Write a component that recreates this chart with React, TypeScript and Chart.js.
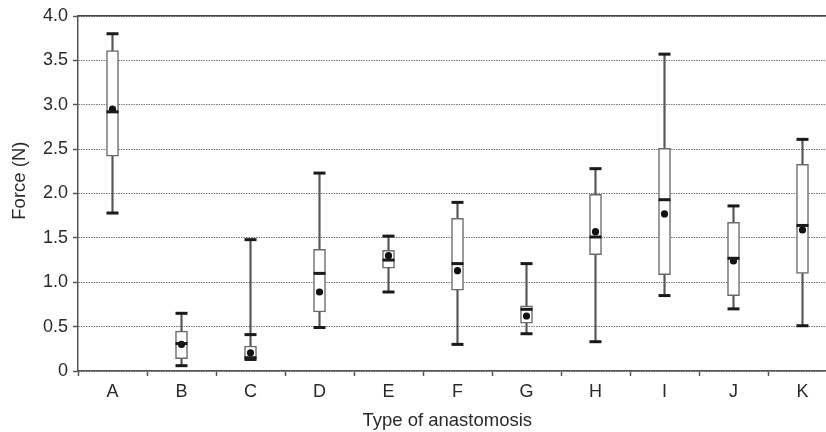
import React, { useEffect, useRef } from "react";
import { Chart, registerables } from "chart.js";

Chart.register(...registerables);

const categories = ["A", "B", "C", "D", "E", "F", "G", "H", "I", "J", "K"];
const minValues = [1.78, 0.06, 0.13, 0.49, 0.89, 0.3, 0.42, 0.33, 0.85, 0.7, 0.51];
const q1Values = [2.42, 0.14, 0.135, 0.665, 1.16, 0.91, 0.54, 1.31, 1.085, 0.85, 1.1];
const medianValues = [2.92, 0.31, 0.15, 1.1, 1.25, 1.21, 0.695, 1.51, 1.93, 1.27, 1.64];
const q3Values = [3.61, 0.45, 0.28, 1.37, 1.36, 1.72, 0.735, 1.99, 2.51, 1.675, 2.33];
const maxValues = [3.8, 0.65, 1.48, 2.23, 1.52, 1.9, 1.21, 2.28, 3.57, 1.86, 2.61];
const meanValues = [2.95, 0.3, 0.205, 0.89, 1.3, 1.13, 0.62, 1.57, 1.77, 1.24, 1.59];
const extraCapValues = [null, null, 0.41, null, null, null, null, null, null, null, null];
const yTicks = [0, 0.5, 1, 1.5, 2, 2.5, 3, 3.5, 4];

const FONT = "'Liberation Sans', Arial, Helvetica, sans-serif";

export default function App() {
  const ref = useRef<HTMLCanvasElement | null>(null);

  useEffect(() => {
    if (!ref.current) return;
    const capStyle = {
      type: "line" as const,
      showLine: false,
      pointStyle: "line" as const,
      pointRadius: 6,
      pointHoverRadius: 6,
      pointBorderWidth: 3,
      pointBorderColor: "#1a1a1a",
      borderColor: "#1a1a1a",
    };
    const chart = new Chart(ref.current, {
      type: "bar",
      data: {
        labels: categories,
        datasets: [
          { ...capStyle, label: "median", data: medianValues } as any,
          {
            type: "line",
            label: "mean",
            data: meanValues,
            showLine: false,
            pointStyle: "circle",
            pointRadius: 3.6,
            pointBorderWidth: 0,
            pointBackgroundColor: "#111",
            borderColor: "#111",
          } as any,
          { ...capStyle, label: "max", data: maxValues } as any,
          { ...capStyle, label: "min", data: minValues } as any,
          { ...capStyle, label: "cap", data: extraCapValues } as any,
          {
            type: "bar",
            label: "box",
            data: q1Values.map((q, i) => [q, q3Values[i]]),
            backgroundColor: "#ffffff",
            borderColor: "#6a6a6a",
            borderWidth: 1.5,
            borderSkipped: false,
            barThickness: 12,
            grouped: false,
          } as any,
          {
            type: "bar",
            label: "whisker",
            data: minValues.map((m, i) => [m, maxValues[i]]),
            backgroundColor: "#555555",
            borderWidth: 0,
            barThickness: 1.5,
            grouped: false,
          } as any,
        ],
      },
      options: {
        responsive: false,
        animation: false,
        events: [],
        layout: { padding: { top: 16, right: 0, left: 0, bottom: 0 } },
        plugins: { legend: { display: false }, tooltip: { enabled: false } },
        scales: {
          x: {
            type: "category",
            position: "bottom",
            offset: true,
            grid: {
              display: true,
              drawOnChartArea: false,
              drawTicks: true,
              offset: true,
              tickLength: 5,
              tickColor: "#555",
              tickWidth: 1.5,
            },
            border: { display: true, color: "#555", width: 1.5 },
            ticks: { color: "#2a2a2a", font: { family: FONT, size: 18 }, padding: 5 },
            title: {
              display: true,
              text: "Type of anastomosis    ",
              color: "#2a2a2a",
              font: { family: FONT, size: 18.5 },
              padding: { top: 0, bottom: 0 },
            },
            afterFit: (s: any) => {
              s.height = 61;
            },
          },
          x2: {
            type: "category",
            position: "top",
            offset: true,
            grid: { display: true, drawOnChartArea: false, drawTicks: false },
            border: { display: true, color: "#444", width: 1.5 },
            ticks: { display: false },
            afterFit: (s: any) => {
              s.height = 0;
            },
          },
          y: {
            type: "linear",
            min: 0,
            max: 4,
            afterBuildTicks: (s: any) => {
              s.ticks = yTicks.map((v) => ({ value: v }));
            },
            ticks: {
              color: "#2a2a2a",
              font: { family: FONT, size: 18 },
              padding: 5,
              callback: (v: any) => (Number(v) === 0 ? "0" : Number(v).toFixed(1)),
            },
            grid: {
              color: "#777777",
              lineWidth: 1,
              borderDash: [1.5, 1],
              tickLength: 5,
              tickColor: "#555",
              tickWidth: 1.5,
              tickBorderDash: [],
            } as any,
            border: { display: true, color: "#555", width: 1.5, dash: [1.5, 1] } as any,
            title: {
              display: true,
              text: "     Force (N)",
              color: "#2a2a2a",
              font: { family: FONT, size: 18.5 },
              padding: { top: 9, bottom: 0 },
            },
            afterFit: (s: any) => {
              s.width = 78;
            },
          },
        },
      } as any,
    });
    return () => chart.destroy();
  }, []);

  return (
    <div
      style={{
        position: "fixed",
        left: 0,
        top: 0,
        width: 826,
        height: 432,
        overflow: "hidden",
        background: "#fff",
      }}
    >
      <canvas ref={ref} width={846} height={432} style={{ width: 846, height: 432, display: "block" }} />
    </div>
  );
}
